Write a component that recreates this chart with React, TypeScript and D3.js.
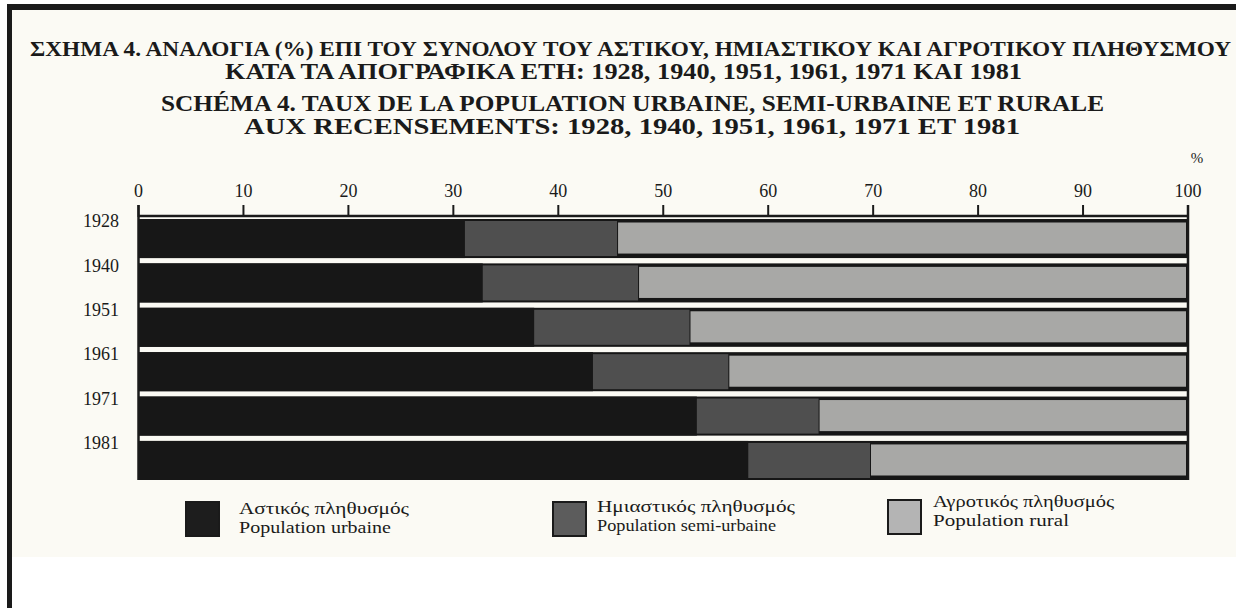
import React from "react";
import * as d3 from "d3";

const years = ["1928", "1940", "1951", "1961", "1971", "1981"];
const urban = [31.1, 32.8, 37.7, 43.3, 53.2, 58.1];
const semiUrban = [14.5, 14.8, 14.8, 12.9, 11.6, 11.6];
const rural = [54.4, 52.4, 47.5, 43.8, 35.2, 30.3];
const tickValues = [0, 10, 20, 30, 40, 50, 60, 70, 80, 90, 100];

const titleLines = [
  "ΣΧΗΜΑ 4. ΑΝΑΛΟΓΙΑ (%) ΕΠΙ ΤΟΥ ΣΥΝΟΛΟΥ ΤΟΥ ΑΣΤΙΚΟΥ, ΗΜΙΑΣΤΙΚΟΥ ΚΑΙ ΑΓΡΟΤΙΚΟΥ ΠΛΗΘΥΣΜΟΥ",
  "ΚΑΤΑ ΤΑ ΑΠΟΓΡΑΦΙΚΑ ΕΤΗ: 1928, 1940, 1951, 1961, 1971 ΚΑΙ 1981",
  "SCHÉMA 4. TAUX DE LA POPULATION URBAINE, SEMI-URBAINE ET RURALE",
  "AUX RECENSEMENTS: 1928, 1940, 1951, 1961, 1971 ET 1981",
];
const legendGreek = ["Αστικός πληθυσμός", "Ημιαστικός πληθυσμός", "Αγροτικός πληθυσμός"];
const legendFrench = ["Population urbaine", "Population semi-urbaine", "Population rural"];

const W = 1236;
const H = 608;
const serif = "'Liberation Serif', 'DejaVu Serif', serif";

export default function App() {
  const x = d3.scaleLinear().domain([0, 100]).range([138.5, 1188]);
  const y = d3.scaleBand<string>().domain(years).range([219, 480]).paddingInner(0.12).paddingOuter(0);
  const rows = years.map((yr, i) => ({ year: yr, urban: urban[i], semi: semiUrban[i], rural: rural[i] }));
  const stack = d3.stack<any>().keys(["urban", "semi", "rural"]);
  const series = stack(rows);
  const bw = y.bandwidth();

  const titleSpecs = [
    { x0: 30, x1: 1231, base: 56, fs: 22 },
    { x0: 225, x1: 1022, base: 79, fs: 23 },
    { x0: 161, x1: 1104, base: 111, fs: 23 },
    { x0: 244, x1: 1020, base: 134, fs: 23 },
  ];

  const legendSpecs = [
    { sx: 186, sy: 502, tx: 239, b1: 514, fill: "#1d1d1d", gw: 170, fw: 152 },
    { sx: 553, sy: 502, tx: 597, b1: 512, fill: "#5c5c5c", gw: 198, fw: 179 },
    { sx: 888, sy: 500, tx: 933, b1: 507, fill: "#b4b4b4", gw: 181, fw: 136 },
  ];

  return (
    <div style={{ position: "fixed", left: 0, top: 0 }}>
      <svg width={W} height={H} style={{ display: "block", background: "#ffffff" }}>
        <rect x={12} y={10} width={W - 12} height={547} fill="#fbfaf4" />
        {/* frame */}
        <rect x={7} y={4} width={W - 7} height={6} fill="#1a1a1a" />
        <rect x={7} y={4} width={5} height={H - 4} fill="#1a1a1a" />

        {titleLines.map((t, i) => (
          <text
            key={i}
            x={titleSpecs[i].x0}
            y={titleSpecs[i].base}
            textLength={titleSpecs[i].x1 - titleSpecs[i].x0}
            lengthAdjust="spacingAndGlyphs"
            fontFamily={serif}
            fontWeight="bold"
            fontSize={titleSpecs[i].fs}
            fill="#1a1a1a"
          >
            {t}
          </text>
        ))}

        {/* x axis ticks and labels */}
        {tickValues.map((v) => (
          <g key={v}>
            <line x1={x(v)} x2={x(v)} y1={205} y2={217} stroke="#1a1a1a" strokeWidth={2} />
            <text
              x={x(v)}
              y={197}
              textAnchor="middle"
              fontFamily={serif}
              fontSize={18}
              fill="#1a1a1a"
            >
              {v}
            </text>
          </g>
        ))}
        <text x={1197} y={163} textAnchor="middle" fontFamily={serif} fontSize={15} fill="#1a1a1a">
          %
        </text>
        <line x1={x(0)} x2={x(100)} y1={216} y2={216} stroke="#1a1a1a" strokeWidth={2.5} />

        {/* bars */}
        {years.map((yr, i) => {
          const y0 = y(yr) as number;
          const su = series[0][i];
          const ss = series[1][i];
          const sr = series[2][i];
          return (
            <g key={yr}>
              <rect x={x(0)} y={y0} width={x(100) - x(0)} height={bw} fill="#161616" />
              <rect x={x(su[0])} y={y0} width={x(su[1]) - x(su[0])} height={bw} fill="#171717" />
              <rect x={x(ss[0])} y={y0 + 2} width={x(ss[1]) - x(ss[0])} height={bw - 4} fill="#4f4f4f" />
              <rect
                x={x(sr[0]) + 1}
                y={y0 + 3.5}
                width={x(sr[1]) - x(sr[0]) - 3}
                height={bw - 8}
                fill="#a8a8a6"
              />
            </g>
          );
        })}
        <line x1={x(0)} x2={x(0)} y1={205} y2={480} stroke="#1a1a1a" strokeWidth={2.5} />
        <line x1={x(100)} x2={x(100)} y1={205} y2={480} stroke="#1a1a1a" strokeWidth={2.5} />

        {/* year labels */}
        {years.map((yr) => (
          <text
            key={yr}
            x={119}
            y={(y(yr) as number) + 4}
            textAnchor="end"
            dominantBaseline="middle"
            fontFamily={serif}
            fontSize={18}
            fill="#1a1a1a"
          >
            {yr}
          </text>
        ))}

        {/* legend */}
        {legendSpecs.map((l, i) => (
          <g key={i}>
            <rect x={l.sx} y={l.sy} width={33} height={34} fill={l.fill} stroke="#1a1a1a" strokeWidth={2} />
            <text
              x={l.tx}
              y={l.b1}
              textLength={l.gw}
              lengthAdjust="spacingAndGlyphs"
              fontFamily={serif}
              fontSize={17}
              fill="#1a1a1a"
            >
              {legendGreek[i]}
            </text>
            <text
              x={l.tx}
              y={l.b1 + 19}
              textLength={l.fw}
              lengthAdjust="spacingAndGlyphs"
              fontFamily={serif}
              fontSize={17}
              fill="#1a1a1a"
            >
              {legendFrench[i]}
            </text>
          </g>
        ))}
      </svg>
    </div>
  );
}
